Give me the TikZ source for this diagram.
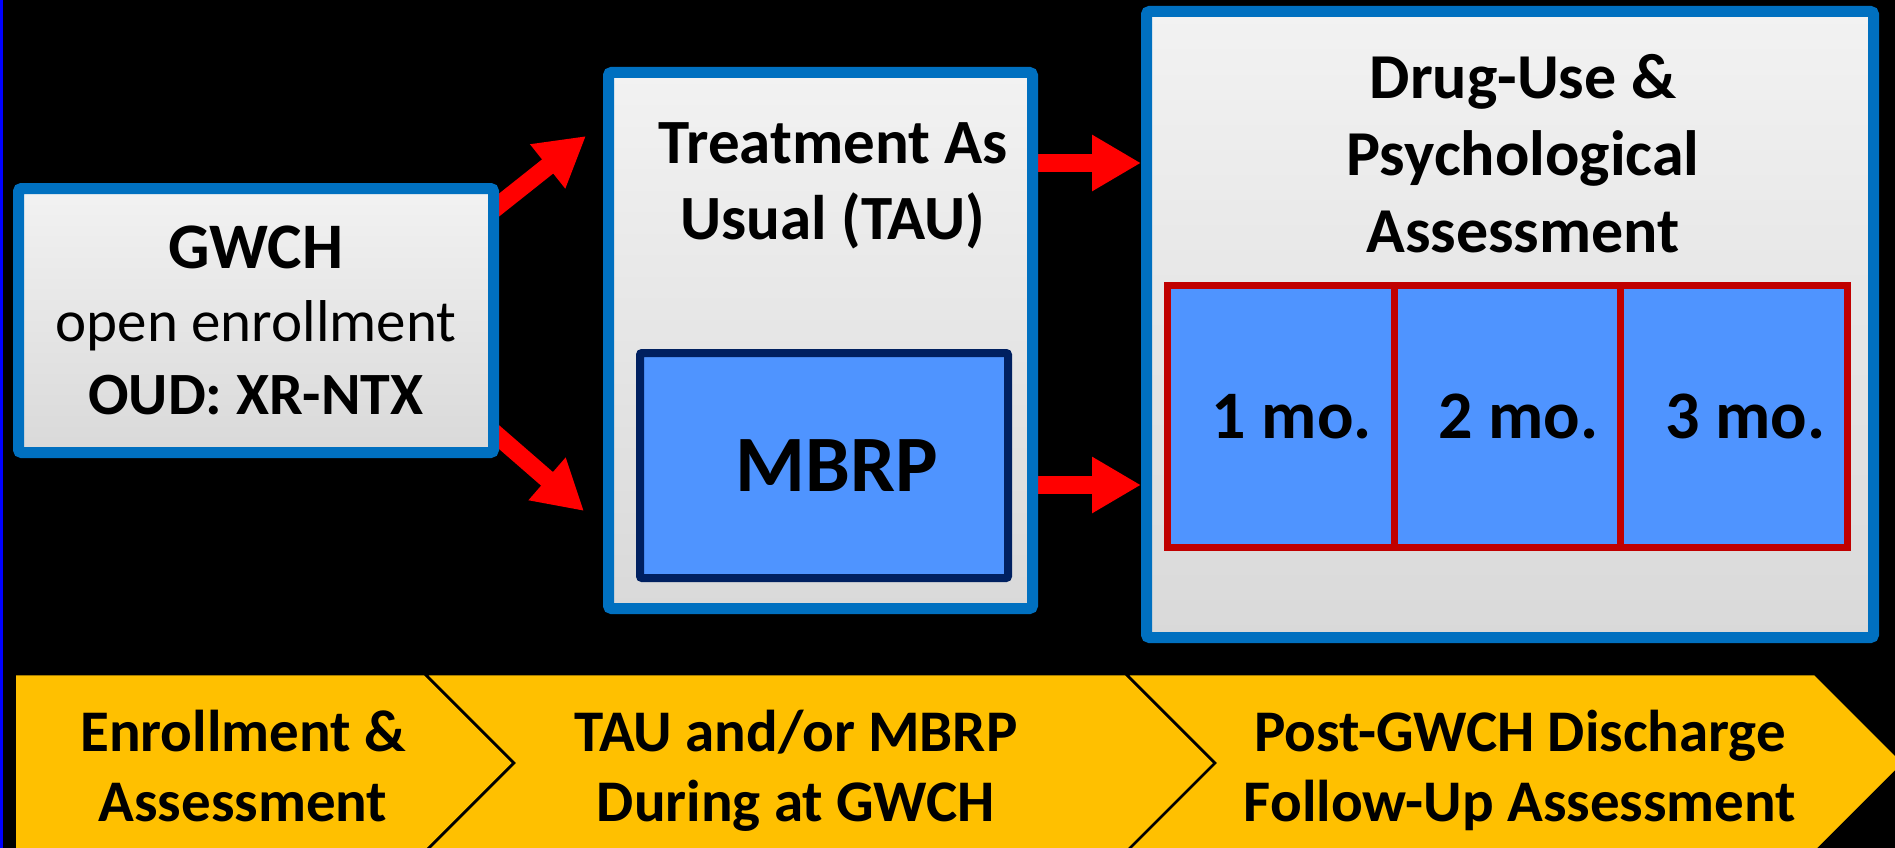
\documentclass[tikz,border=0pt]{standalone}
\usepackage{fontspec}
\setmainfont{Carlito}
\usetikzlibrary{arrows.meta,calc}

\definecolor{boxblue}{HTML}{0070C0}
\definecolor{navy}{HTML}{002060}
\definecolor{cellfill}{HTML}{4F94FF}
\definecolor{cellred}{HTML}{C00000}
\definecolor{arrowred}{HTML}{FF0000}
\definecolor{gold}{HTML}{FFC000}
\definecolor{paneltop}{HTML}{F2F2F2}
\definecolor{panelbot}{HTML}{D9D9D9}

\pgfdeclarelayer{bg}
\pgfsetlayers{bg,main}

\begin{document}
\begin{tikzpicture}[x=1pt,y=-1pt,
	panel/.style={draw=boxblue,line width=11pt,rounded corners=3pt,top color=paneltop,bottom color=panelbot,inner sep=0pt},
	cell/.style={draw=cellred,line width=7pt,fill=cellfill,minimum width=226.7pt,minimum height=262pt,inner sep=0pt,font=\bfseries\fontsize{68}{70}\selectfont},
	bigarrow/.style={draw=arrowred,line width=18pt,-{Triangle[width=53pt,length=49pt]}},
	chevron/.style={draw=black,line width=2.5pt,fill=gold},
	chevtext/.style={anchor=north,align=center,inner sep=0pt,font=\bfseries\fontsize{59}{70}\selectfont}]
	\useasboundingbox (0,0) rectangle (1895,848);

	% boxes
	\node[panel,minimum width=475pt,minimum height=264pt,align=center,font=\fontsize{59}{73}\selectfont] (gwch) at (256,320.5) {{\bfseries\fontsize{65}{73}\selectfont GWCH}\\open enrollment\\{\bfseries\fontsize{60}{73}\selectfont OUD: XR-NTX}};

	\node[panel,minimum width=424pt,minimum height=536pt] (tau) at (820.5,340.5) {};
	\node[anchor=north,align=center,inner sep=0pt,font=\bfseries\fontsize{63}{76}\selectfont] (taulabel) at (833,122) {Treatment As\\Usual (TAU)};
	\node[draw=navy,line width=8pt,fill=cellfill,rounded corners=2pt,minimum width=368pt,minimum height=225pt,font=\bfseries\fontsize{80}{80}\selectfont] (mbrp) at (824,465.5) {\hspace*{26pt}MBRP};

	\node[panel,minimum width=727pt,minimum height=626pt] (assess) at (1510,324.5) {};
	\node[anchor=north,align=center,inner sep=0pt,font=\bfseries\fontsize{64}{77}\selectfont] (assesstitle) at (1523,54) {Drug-Use \&\\Psychological\\Assessment};
	\foreach \i in {1,2,3}
	{
		\node[cell] (mo\i) at ({1167.5+226.7*(\i-0.5)},416.5) {\hspace*{22pt}\i\ mo.};
	}

	% arrows behind the boxes
	\begin{pgfonlayer}{bg}
		\fill[black] (0,0) rectangle (1895,848);
		\draw[bigarrow] ($(gwch.north east)+(-15,34)$) -- ($(tau.north west)+(-17,69)$);
		\draw[bigarrow] ($(gwch.south east)+(-15,-34)$) -- ($(tau.south west)+(-19,-103)$);
		\draw[bigarrow] ($(tau.north east)+(-10,96)$) -- ($(assess.north west)+(0,157)$);
		\draw[bigarrow] ($(tau.north east)+(-10,418)$) -- ($(assess.north west)+(0,479)$);
	\end{pgfonlayer}

	\draw[blue,line width=3pt] (1.5,0) -- (1.5,848);

	% phases
	\draw[chevron] (14.5,674) -- (425,674) -- (514,763) -- (425,852) -- (14.5,852) -- cycle;
	\foreach \xa/\xb in {425/1126,1126/1815}
	{
		\draw[chevron] (\xa,674) -- (\xb,674) -- (\xb+89,763) -- (\xb,852) -- (\xa,852) -- (\xa+89,763) -- cycle;
	}
	\node[chevtext] (enroll) at (243,710) {Enrollment \&\\Assessment};
	\node[chevtext] (during) at (796,710) {TAU and/or MBRP\\During at GWCH};
	\node[chevtext] (followup) at (1520,710) {Post-GWCH Discharge\\Follow-Up Assessment};
\end{tikzpicture}
\end{document}
